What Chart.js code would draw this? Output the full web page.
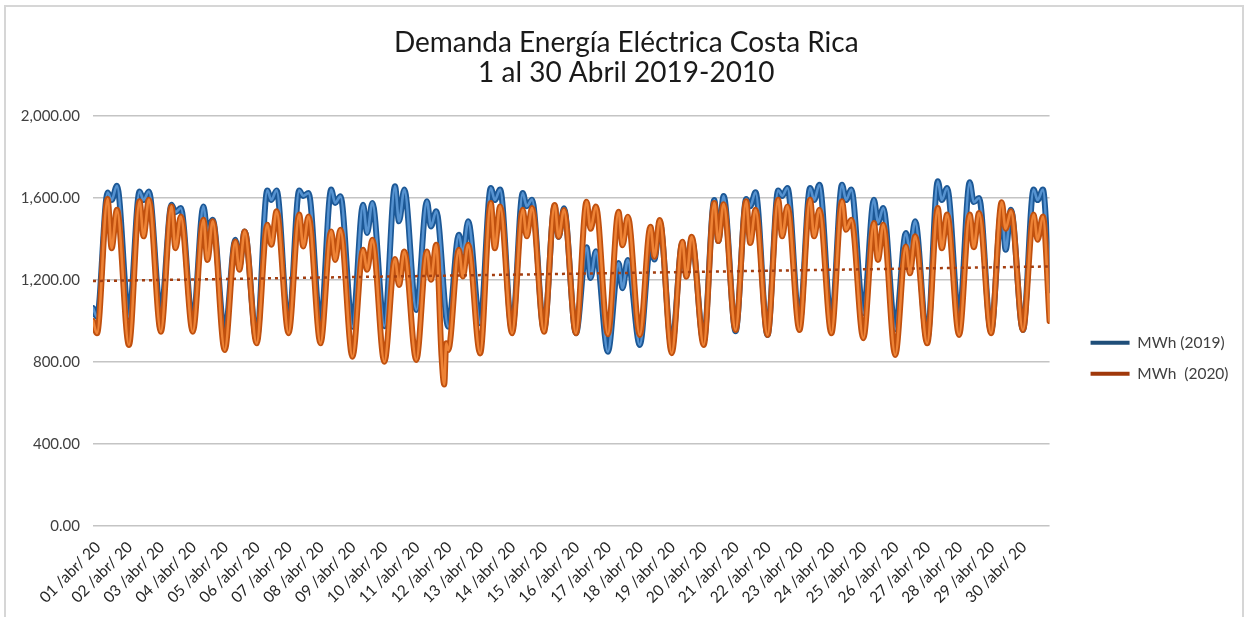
<!DOCTYPE html>
<html><head><meta charset="utf-8">
<script src="https://cdn.jsdelivr.net/npm/chart.js@4.4.1/dist/chart.umd.min.js"></script>
<style>
html,body{margin:0;padding:0;background:#fff;overflow:hidden;}
#wrap{position:relative;width:1245px;height:617px;}
#frame{position:absolute;left:4px;top:5px;width:1240px;height:640px;border:2px solid #d6d6d6;box-sizing:border-box;pointer-events:none;}
canvas{position:absolute;left:0;top:0;}
</style></head><body>
<div id="wrap"><canvas id="c" width="1245" height="617"></canvas><div id="frame"></div></div>
<script>
// ---- data ----
const dayLabels = ['01 /abr/ 20','02 /abr/ 20','03 /abr/ 20','04 /abr/ 20','05 /abr/ 20','06 /abr/ 20','07 /abr/ 20','08 /abr/ 20','09 /abr/ 20','10 /abr/ 20',
  '11 /abr/ 20','12 /abr/ 20','13 /abr/ 20','14 /abr/ 20','15 /abr/ 20','16 /abr/ 20','17 /abr/ 20','18 /abr/ 20','19 /abr/ 20','20 /abr/ 20',
  '21 /abr/ 20','22 /abr/ 20','23 /abr/ 20','24 /abr/ 20','25 /abr/ 20','26 /abr/ 20','27 /abr/ 20','28 /abr/ 20','29 /abr/ 20','30 /abr/ 20'];
// hour of day of each daily reading: night minimum, morning peak, midday dip, evening peak
const keyHours = [3, 11, 14, 18];

const start2019 = 1063, end2019 = 1150;
const min2019  = [1020,1020,1038,989,940,907,972,980,972,975,1054,972,989,956,956,940,850,883,875,900,950,932,990,989,1038,960,907,1013,950,956];
const am2019   = [1627,1632,1567,1559,1396,1637,1637,1641,1567,1657,1584,1421,1649,1624,1560,1360,1283,1362,1380,1590,1595,1637,1649,1665,1592,1429,1682,1677,1545,1641];
const dip2019  = [1590,1590,1530,1440,1266,1590,1610,1576,1429,1486,1461,1331,1590,1560,1410,1210,1160,1300,1230,1390,1560,1610,1590,1590,1480,1350,1590,1580,1347,1590];
const pm2019   = [1660,1632,1551,1494,1437,1637,1624,1608,1576,1641,1535,1486,1641,1592,1550,1340,1297,1480,1400,1610,1628,1649,1665,1641,1551,1486,1649,1600,1543,1641];

const start2020 = 1000, end2020 = 1000;
const min2020  = [940,883,948,948,858,891,940,891,826,801,810,858,842,940,948,940,935,932,843,883,956,932,956,940,916,834,891,932,940,956];
const am2020   = [1595,1584,1559,1494,1388,1470,1519,1437,1347,1302,1339,1347,1576,1543,1566,1582,1533,1460,1387,1576,1584,1592,1592,1584,1478,1364,1551,1519,1579,1519];
const dip2020  = [1355,1413,1355,1298,1250,1372,1364,1298,1250,1176,1201,1217,1355,1413,1411,1450,1370,1314,1216,1390,1380,1413,1413,1445,1298,1233,1355,1360,1450,1396];
const pm2020   = [1543,1592,1510,1486,1437,1535,1510,1445,1396,1339,1372,1372,1559,1551,1541,1558,1509,1493,1411,1570,1543,1559,1543,1494,1470,1413,1519,1527,1535,1510];
// isolated readings [hour of month, MWh]
const extra2020 = [[262, 826], [264, 690], [265.5, 891]];

const trend2020 = [1195, 1266];
const seriesNames = ['MWh (2019)', 'MWh  (2020)'];

// ---- build points ----
const HOURS_PER_DAY = 24, LAST_HOUR = dayLabels.length * HOURS_PER_DAY - 1;
function buildSeries(start, mins, am, dip, pm, end, extra) {
  const rows = [mins, am, dip, pm];
  const pts = [{x: 0, y: start}];
  for (let d = 0; d < dayLabels.length; d++) {
    rows.forEach((r, k) => pts.push({x: d * HOURS_PER_DAY + keyHours[k], y: r[d]}));
  }
  pts.push({x: LAST_HOUR, y: end});
  (extra || []).forEach(([h, v]) => pts.push({x: h, y: v}));
  pts.sort((a, b) => a.x - b.x);
  return pts;
}
const s2019 = buildSeries(start2019, min2019, am2019, dip2019, pm2019, end2019);
const s2020 = buildSeries(start2020, min2020, am2020, dip2020, pm2020, end2020, extra2020);

const FONT = 'Lato, "Open Sans", sans-serif';
const baseLine = {type: 'line', pointRadius: 0, fill: false, cubicInterpolationMode: 'monotone', borderJoinStyle: 'round', borderCapStyle: 'round'};

new Chart(document.getElementById('c'), {
  type: 'line',
  data: {
    datasets: [
      Object.assign({}, baseLine, {label: seriesNames[0], data: s2019, borderColor: '#1C5896', borderWidth: 6, order: 5, legendColor: '#1F4E79', inLegend: true}),
      Object.assign({}, baseLine, {label: seriesNames[0] + ' ', data: s2019, borderColor: '#5592D0', borderWidth: 2.6, order: 4}),
      Object.assign({}, baseLine, {label: seriesNames[1], data: s2020, borderColor: '#C0500E', borderWidth: 6, order: 3, legendColor: '#A0380A', inLegend: true}),
      Object.assign({}, baseLine, {label: seriesNames[1] + ' ', data: s2020, borderColor: '#EE8336', borderWidth: 2.6, order: 2}),
      {type: 'line', label: 'Lineal (MWh  (2020))', data: [{x: 0, y: trend2020[0]}, {x: LAST_HOUR, y: trend2020[1]}],
       borderColor: '#A33E10', borderWidth: 2.5, borderDash: [3, 4], pointRadius: 0, fill: false, order: 1}
    ]
  },
  options: {
    responsive: false,
    animation: false,
    events: [],
    layout: {padding: {left: 14, right: 6.5, top: 0, bottom: 0}},
    scales: {
      x: {
        type: 'linear', min: 0, max: LAST_HOUR,
        afterBuildTicks: (axis) => { axis.ticks = dayLabels.map((_, i) => ({value: i * HOURS_PER_DAY})); },
        afterFit: (axis) => { axis.height = 91; },
        ticks: {autoSkip: false, minRotation: 45, maxRotation: 45, padding: 12, labelOffset: 5, color: '#262626',
                font: {family: FONT, size: 15.5}, callback: (v, i) => dayLabels[i]},
        grid: {display: false, drawTicks: false},
        border: {display: false}
      },
      y: {
        min: 0, max: 2000,
        afterFit: (axis) => { axis.width = 79; },
        ticks: {stepSize: 400, padding: 13, color: '#404040', font: {family: FONT, size: 15},
                callback: (v) => v.toLocaleString('en-US', {minimumFractionDigits: 2, maximumFractionDigits: 2})},
        grid: {color: '#c4c4c4', lineWidth: 1.6, drawTicks: false},
        border: {display: false}
      },
      yR: {
        position: 'right', display: true,
        afterFit: (axis) => { axis.width = 25.5; },
        ticks: {display: false}, grid: {display: false, drawTicks: false}, border: {display: false}
      }
    },
    plugins: {
      title: {display: true, text: ['Demanda Energía Eléctrica Costa Rica', '1 al 30 Abril 2019-2010'],
              color: '#1a1a1a', font: {family: FONT, size: 28, weight: 'normal', lineHeight: '30px'},
              padding: {top: 28, bottom: 28}},
      legend: {
        position: 'right', align: 'start',
        title: {display: true, text: ' ', font: {size: 10}, padding: {top: 307.5, bottom: 0}},
        labels: {
          usePointStyle: true, pointStyleWidth: 39, padding: 15.5, color: '#404040',
          font: {family: FONT, size: 15.5},
          generateLabels: (chart) => chart.data.datasets
            .map((ds, i) => ({ds, i}))
            .filter(o => o.ds.inLegend)
            .map(o => ({text: o.ds.label, strokeStyle: o.ds.legendColor, fillStyle: o.ds.legendColor,
                        lineWidth: 4, pointStyle: 'line', datasetIndex: o.i, hidden: false, fontColor: '#404040'}))
        }
      },
      tooltip: {enabled: false}
    }
  }
});
</script>
</body></html>
